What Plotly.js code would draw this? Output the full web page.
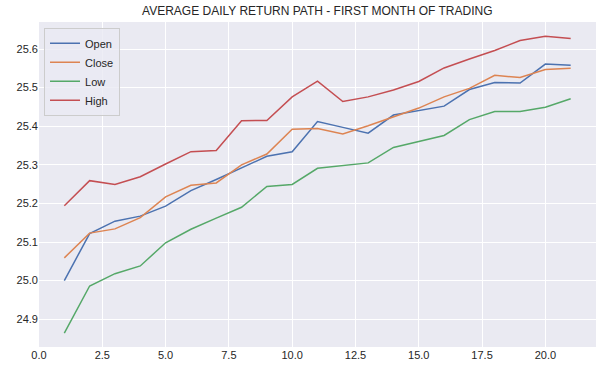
<!DOCTYPE html>
<html>
<head>
<meta charset="utf-8">
<script src="https://cdn.plot.ly/plotly-3.0.1.min.js"></script>
<style>html,body{margin:0;padding:0;background:#fff;}#chart{width:609px;height:374px;}</style>
</head>
<body>
<div id="chart"></div>
<script>
const days = [1,2,3,4,5,6,7,8,9,10,11,12,13,14,15,16,17,18,19,20,21];
const openVals  = [25.000,25.122,25.154,25.167,25.193,25.233,25.262,25.293,25.322,25.334,25.412,25.397,25.382,25.429,25.440,25.452,25.495,25.513,25.512,25.561,25.558];
const closeVals = [25.059,25.123,25.134,25.163,25.217,25.247,25.253,25.300,25.328,25.392,25.394,25.380,25.401,25.425,25.447,25.476,25.498,25.532,25.526,25.547,25.550];
const lowVals   = [24.864,24.986,25.018,25.038,25.098,25.133,25.162,25.190,25.244,25.249,25.291,25.298,25.305,25.345,25.360,25.376,25.417,25.438,25.438,25.449,25.471];
const highVals  = [25.194,25.259,25.249,25.269,25.302,25.334,25.337,25.414,25.415,25.476,25.517,25.464,25.476,25.494,25.516,25.551,25.574,25.596,25.622,25.633,25.627];
const seriesNames = ["Open","Close","Low","High"];
const seriesColors = ["#4C72B0","#DD8452","#55A868","#C44E52"];
const seriesData = [openVals, closeVals, lowVals, highVals];
const titleText = "AVERAGE DAILY RETURN PATH - FIRST MONTH OF TRADING";

const traces = seriesData.map((vals, i) => ({
  x: days, y: vals, type: "scatter", mode: "lines", name: seriesNames[i],
  line: {color: seriesColors[i], width: 1.5}
}));

const font = {family: "Liberation Sans, Arial, sans-serif", size: 11, color: "#262626"};
const layout = {
  width: 609, height: 374,
  margin: {l: 39, r: 13, t: 22, b: 27, pad: 0},
  paper_bgcolor: "#ffffff", plot_bgcolor: "#EAEAF2",
  font: font,
  title: {text: titleText, x: 0.521, xanchor: "center", y: 0.97, yanchor: "middle",
          font: {family: font.family, size: 12, color: "#262626"}},
  xaxis: {range: [0, 22], dtick: 2.5, tick0: 0, tickformat: ".1f",
          showgrid: true, gridcolor: "#ffffff", gridwidth: 1, zeroline: false,
          showline: false, ticks: "", ticklen: 0, tickfont: font},
  yaxis: {range: [24.828, 25.670], dtick: 0.1, tick0: 24.9, tickformat: ".1f",
          showgrid: true, gridcolor: "#ffffff", gridwidth: 1, zeroline: false,
          showline: false, ticks: "", ticklen: 0, tickfont: font},
  showlegend: true,
  legend: {x: 0.009, y: 0.982, xanchor: "left", yanchor: "top",
           bgcolor: "rgba(234,234,242,0.8)", bordercolor: "#cccccc", borderwidth: 1,
           font: font, itemwidth: 30},
};
Plotly.newPlot("chart", traces, layout, {displayModeBar: false, staticPlot: true});
</script>
</body>
</html>
